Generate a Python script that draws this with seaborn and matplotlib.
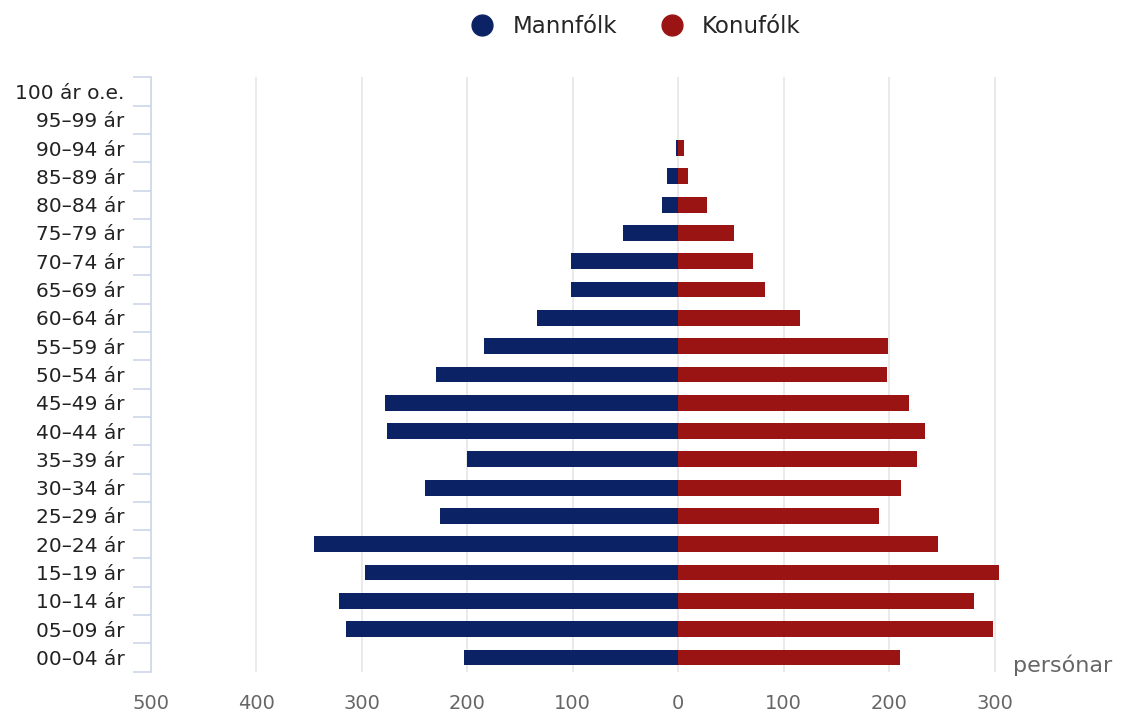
import numpy as np
import pandas as pd
import seaborn as sns
import matplotlib.pyplot as plt
from matplotlib.lines import Line2D

# data (persons per age group)
age_groups = ["100 ár o.e.", "95–99 ár", "90–94 ár", "85–89 ár", "80–84 ár", "75–79 ár",
              "70–74 ár", "65–69 ár", "60–64 ár", "55–59 ár", "50–54 ár", "45–49 ár",
              "40–44 ár", "35–39 ár", "30–34 ár", "25–29 ár", "20–24 ár", "15–19 ár",
              "10–14 ár", "05–09 ár", "00–04 ár"]
men = [0, 0, 2, 11, 15, 52, 102, 102, 134, 184, 230, 278, 276, 200, 240, 226, 345, 297, 322, 315, 203]
women = [0, 0, 5, 9, 27, 53, 71, 82, 115, 199, 198, 219, 234, 226, 211, 190, 246, 304, 280, 298, 210]
x_ticks = [-500, -400, -300, -200, -100, 0, 100, 200, 300]

male_color = "#0b2265"
female_color = "#9b1414"
axis_color = "#ccd6eb"

df = pd.concat([
    pd.DataFrame({"age": age_groups, "value": [-v for v in men], "sex": "Mannfólk"}),
    pd.DataFrame({"age": age_groups, "value": women, "sex": "Konufólk"}),
])

sns.set_style("white")
plt.rcParams["font.family"] = ["DejaVu Sans"]

fig, ax = plt.subplots(figsize=(11.25, 7.16), dpi=100)
fig.subplots_adjust(left=0.134, right=0.978, top=0.892, bottom=0.062)

sns.barplot(data=df, y="age", x="value", hue="sex", order=age_groups,
            palette={"Mannfólk": male_color, "Konufólk": female_color},
            dodge=False, width=0.56, orient="h", saturation=1, ax=ax, legend=False,
            linewidth=0, edgecolor="none")

ax.set_xlim(-500, 400)
ax.set_ylim(len(age_groups) - 0.5, -0.5)
ax.set_xticks(x_ticks)
ax.set_xticklabels([str(abs(t)) for t in x_ticks], fontsize=14, color="#666666")
ax.xaxis.grid(True, color="#e6e6e6", linewidth=1.2)
ax.set_axisbelow(True)
ax.tick_params(axis="x", length=0, pad=16)

# y labels on the categories, tick marks on the boundaries
ax.tick_params(axis="y", which="major", left=False, length=0, labelsize=14.5,
               labelcolor="#222222", pad=19)
ax.set_yticks(np.arange(-0.5, len(age_groups), 1.0), minor=True)
ax.tick_params(axis="y", which="minor", left=True, length=13, color=axis_color, width=1.2)
ax.set_xlabel("")
ax.set_ylabel("")

for side in ["top", "right", "bottom"]:
    ax.spines[side].set_visible(False)
ax.spines["left"].set_color(axis_color)
ax.spines["left"].set_linewidth(1.2)

ax.text(1.013, -0.008, "persónar", transform=ax.transAxes, ha="right", va="bottom",
        fontsize=16, color="#666666")

handles = [Line2D([], [], marker="o", linestyle="", markersize=15, color=male_color),
           Line2D([], [], marker="o", linestyle="", markersize=15, color=female_color)]
fig.legend(handles, ["Mannfólk", "Konufólk"], loc="upper center", bbox_to_anchor=(0.56, 1.008),
           ncol=2, frameon=False, fontsize=16.5, handletextpad=0.3, columnspacing=1.4)

fig.savefig("out.png", dpi=100)
